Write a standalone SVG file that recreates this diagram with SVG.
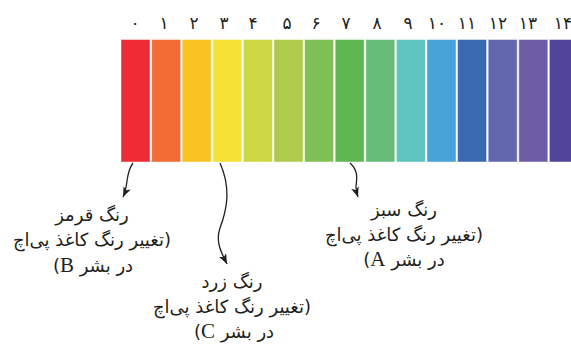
<svg xmlns="http://www.w3.org/2000/svg" width="571" height="345" viewBox="0 0 571 345">
<style>
.num{font-family:"DejaVu Sans",sans-serif;font-size:17px;fill:#231f20;text-anchor:middle}
.lbl{font-family:"DejaVu Sans",sans-serif;font-size:18px;fill:#231f20;text-anchor:middle}
.lat{font-family:"Liberation Serif",serif;font-size:21px}
.conn{fill:none;stroke:#231f20;stroke-width:1.3}
.bar{stroke:#ffffff;stroke-opacity:0.45;stroke-width:1}
</style>
<defs>
<marker id="ah" markerUnits="userSpaceOnUse" markerWidth="12" markerHeight="10" refX="10" refY="4" orient="auto">
<path d="M0,0 L10,4 L0,8 L2.5,4 Z" fill="#231f20"/>
</marker>
</defs>
<rect width="571" height="345" fill="#ffffff"/>
<g id="scale">
<rect class="bar" x="121" y="39.5" width="29" height="122.5" fill="#EE2B36"/>
<rect class="bar" x="151.6" y="39.5" width="29" height="122.5" fill="#F26C33"/>
<rect class="bar" x="182.2" y="39.5" width="29" height="122.5" fill="#F8C322"/>
<rect class="bar" x="212.8" y="39.5" width="29" height="122.5" fill="#F5E234"/>
<rect class="bar" x="243.4" y="39.5" width="29" height="122.5" fill="#CCD743"/>
<rect class="bar" x="274" y="39.5" width="29" height="122.5" fill="#AECB4B"/>
<rect class="bar" x="304.6" y="39.5" width="29" height="122.5" fill="#7EC056"/>
<rect class="bar" x="335.2" y="39.5" width="29" height="122.5" fill="#60B553"/>
<rect class="bar" x="365.8" y="39.5" width="29" height="122.5" fill="#66BC78"/>
<rect class="bar" x="396.4" y="39.5" width="29" height="122.5" fill="#5EC4C0"/>
<rect class="bar" x="427" y="39.5" width="29" height="122.5" fill="#48A3D8"/>
<rect class="bar" x="457.6" y="39.5" width="29" height="122.5" fill="#3A69B1"/>
<rect class="bar" x="488.2" y="39.5" width="29" height="122.5" fill="#6367AE"/>
<rect class="bar" x="518.8" y="39.5" width="29" height="122.5" fill="#6E5CA7"/>
<rect class="bar" x="549.4" y="39.5" width="29" height="122.5" fill="#524599"/>
<text class="num" x="135" y="29">۰</text>
<text class="num" x="164" y="29">۱</text>
<text class="num" x="194" y="29">۲</text>
<text class="num" x="224" y="29">۳</text>
<text class="num" x="253" y="29">۴</text>
<text class="num" x="287" y="29">۵</text>
<text class="num" x="316" y="29">۶</text>
<text class="num" x="346" y="29">۷</text>
<text class="num" x="377" y="29">۸</text>
<text class="num" x="408" y="29">۹</text>
<text class="num" x="437" y="29">۱۰</text>
<text class="num" x="467" y="29">۱۱</text>
<text class="num" x="498" y="29">۱۲</text>
<text class="num" x="528" y="29">۱۳</text>
<text class="num" x="563" y="29">۱۴</text>
</g>
<g id="connectors">
<path class="conn" d="M133,163 C125,174 129,184 123,197" marker-end="url(#ah)"/>
<path class="conn" d="M220,163 C232,190 226,212 220,228 C215,242 222,254 227,264" marker-end="url(#ah)"/>
<path class="conn" d="M350,163 C360,172 356,182 356,187 C356,191 357,194 358,197" marker-end="url(#ah)"/>
</g>
<g id="label-red">
<text class="lbl" direction="rtl" x="92" y="221">رنگ قرمز</text>
<text class="lbl" direction="rtl" x="92" y="246">(تغییر رنگ کاغذ پی‌اچ</text>
<text class="lbl" direction="rtl" x="93" y="272">در بشر <tspan class="lat">B</tspan>)</text>
</g>
<g id="label-yellow">
<text class="lbl" direction="rtl" x="232" y="288">رنگ زرد</text>
<text class="lbl" direction="rtl" x="232" y="313">(تغییر رنگ کاغذ پی‌اچ</text>
<text class="lbl" direction="rtl" x="234" y="338">در بشر <tspan class="lat">C</tspan>)</text>
</g>
<g id="label-green">
<text class="lbl" direction="rtl" x="404" y="216">رنگ سبز</text>
<text class="lbl" direction="rtl" x="404" y="241">(تغییر رنگ کاغذ پی‌اچ</text>
<text class="lbl" direction="rtl" x="404" y="266">در بشر <tspan class="lat">A</tspan>)</text>
</g>
</svg>
